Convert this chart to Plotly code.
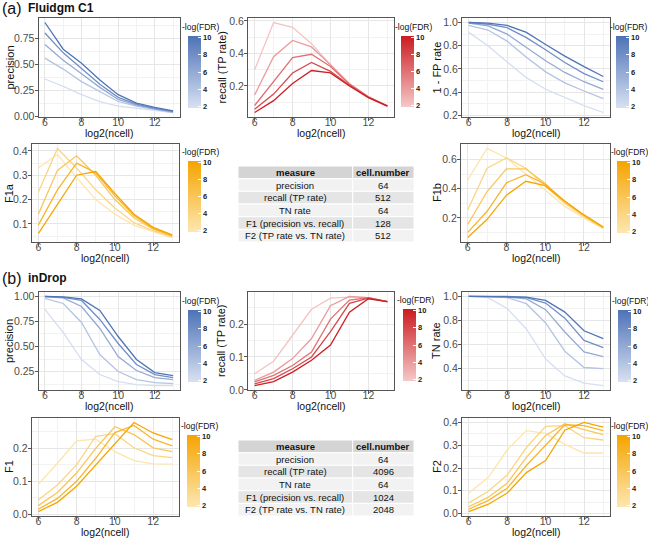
import plotly.graph_objects as go
from plotly.colors import sample_colorscale

W, H = 648, 539

# ---------------- data ----------------
ncell_log2 = [6, 7, 8, 9, 10, 11, 12, 13]
fdr_levels = [2, 4, 6, 8, 10]          # -log(FDR) of each line (light -> dark)
cbar_ticks = [2, 4, 6, 8, 10]

# (a) Fluidgm C1 ; rows follow fdr_levels
a_precision = [
    [0.36, 0.29, 0.21, 0.145, 0.10, 0.08, 0.06, 0.04],
    [0.56, 0.455, 0.335, 0.24, 0.145, 0.10, 0.07, 0.04],
    [0.69, 0.54, 0.41, 0.28, 0.165, 0.11, 0.075, 0.045],
    [0.80, 0.61, 0.46, 0.31, 0.185, 0.12, 0.08, 0.05],
    [0.90, 0.645, 0.51, 0.35, 0.21, 0.13, 0.09, 0.055],
]
a_recall = [
    [0.30, 0.59, 0.56, 0.46, 0.33, 0.215, 0.135, 0.078],
    [0.145, 0.38, 0.48, 0.44, 0.33, 0.213, 0.134, 0.078],
    [0.08, 0.23, 0.375, 0.395, 0.32, 0.21, 0.132, 0.078],
    [0.057, 0.15, 0.28, 0.345, 0.29, 0.205, 0.13, 0.077],
    [0.037, 0.11, 0.215, 0.295, 0.28, 0.20, 0.128, 0.076],
]
a_one_minus_fp = [
    [0.915, 0.80, 0.66, 0.525, 0.425, 0.355, 0.285, 0.225],
    [0.975, 0.935, 0.84, 0.70, 0.575, 0.48, 0.41, 0.345],
    [0.995, 0.97, 0.90, 0.785, 0.67, 0.57, 0.49, 0.425],
    [1.0, 0.985, 0.955, 0.87, 0.765, 0.655, 0.56, 0.49],
    [1.0, 0.995, 0.975, 0.915, 0.81, 0.71, 0.62, 0.535],
]
a_f1a = [
    [0.33, 0.385, 0.29, 0.20, 0.14, 0.095, 0.068, 0.044],
    [0.23, 0.41, 0.33, 0.24, 0.165, 0.105, 0.072, 0.047],
    [0.14, 0.32, 0.38, 0.30, 0.20, 0.125, 0.078, 0.05],
    [0.095, 0.24, 0.35, 0.31, 0.215, 0.135, 0.082, 0.052],
    [0.06, 0.18, 0.30, 0.315, 0.225, 0.14, 0.086, 0.055],
]
a_f1b = [
    [0.46, 0.675, 0.61, 0.50, 0.39, 0.28, 0.20, 0.125],
    [0.256, 0.54, 0.61, 0.54, 0.42, 0.30, 0.21, 0.13],
    [0.155, 0.38, 0.535, 0.535, 0.435, 0.31, 0.215, 0.133],
    [0.10, 0.245, 0.44, 0.495, 0.43, 0.315, 0.22, 0.135],
    [0.065, 0.19, 0.355, 0.45, 0.42, 0.315, 0.22, 0.137],
]

# (b) inDrop
b_precision = [
    [0.87, 0.64, 0.37, 0.22, 0.15, 0.12, 0.11, 0.11],
    [0.98, 0.93, 0.74, 0.42, 0.25, 0.17, 0.14, 0.13],
    [0.995, 0.985, 0.90, 0.68, 0.40, 0.26, 0.19, 0.17],
    [1.0, 0.99, 0.96, 0.77, 0.53, 0.32, 0.22, 0.19],
    [1.0, 0.995, 0.975, 0.86, 0.60, 0.37, 0.24, 0.21],
]
b_recall = [
    [0.049, 0.087, 0.166, 0.245, 0.279, 0.282, 0.280, 0.268],
    [0.029, 0.054, 0.095, 0.156, 0.256, 0.284, 0.280, 0.268],
    [0.024, 0.044, 0.074, 0.115, 0.215, 0.273, 0.280, 0.268],
    [0.018, 0.034, 0.064, 0.100, 0.177, 0.263, 0.279, 0.268],
    [0.013, 0.025, 0.054, 0.090, 0.136, 0.236, 0.277, 0.268],
]
b_tn_rate = [
    [1.0, 0.99, 0.90, 0.73, 0.48, 0.34, 0.28, 0.26],
    [1.0, 1.0, 0.99, 0.94, 0.78, 0.545, 0.41, 0.40],
    [1.0, 1.0, 0.995, 0.98, 0.89, 0.705, 0.54, 0.50],
    [1.0, 1.0, 1.0, 0.99, 0.945, 0.82, 0.635, 0.575],
    [1.0, 1.0, 1.0, 0.995, 0.967, 0.87, 0.715, 0.65],
]
b_f1 = [
    [0.091, 0.155, 0.223, 0.228, 0.190, 0.163, 0.153, 0.152],
    [0.043, 0.089, 0.150, 0.237, 0.245, 0.202, 0.178, 0.172],
    [0.026, 0.066, 0.125, 0.200, 0.266, 0.242, 0.202, 0.190],
    [0.015, 0.048, 0.100, 0.170, 0.248, 0.270, 0.228, 0.208],
    [0.008, 0.036, 0.085, 0.150, 0.215, 0.279, 0.247, 0.227],
]
b_f2 = [
    [0.09, 0.157, 0.279, 0.364, 0.352, 0.304, 0.266, 0.266],
    [0.047, 0.097, 0.169, 0.29, 0.383, 0.386, 0.333, 0.323],
    [0.03, 0.071, 0.133, 0.247, 0.343, 0.394, 0.369, 0.347],
    [0.019, 0.057, 0.111, 0.211, 0.30, 0.39, 0.386, 0.364],
    [0.009, 0.04, 0.09, 0.18, 0.233, 0.366, 0.40, 0.38],
]

table_header = ["measure", "cell.number"]
measures = ["precision", "recall (TP rate)", "TN rate",
            "F1 (precision vs. recall)", "F2 (TP rate vs. TN rate)"]
a_cell_number = [64, 512, 64, 128, 512]
b_cell_number = [64, 4096, 64, 1024, 2048]

# ---------------- styles ----------------
BLUE = [[0, "#d8e1f2"], [1, "#4d72b6"]]
RED = [[0, "#f5c8c8"], [1, "#cb1b20"]]
ORANGE = [[0, "#fde7b0"], [1, "#f5a400"]]
CMIN, CMAX = 1.8, 10.2
FONT = "Liberation Sans"

panels = [
    dict(data=a_precision, cs=BLUE, yt="precision", ticks=[0, 0.25, 0.5, 0.75], fmt=".2f",
         box=(38.5, 179.5, 18, 117), ytx=9, cb=(188, 36, 108)),
    dict(data=a_recall, cs=RED, yt="recall (TP rate)", ticks=[0.2, 0.4, 0.6], fmt=".1f",
         box=(248, 394, 18, 117), ytx=221, cb=(401, 36, 107)),
    dict(data=a_one_minus_fp, cs=BLUE, yt="1 - FP rate", ticks=[0.2, 0.4, 0.6, 0.8, 1.0], fmt=".1f",
         box=(462, 610, 18, 117), ytx=436, cb=(616, 36, 108)),
    dict(data=a_f1a, cs=ORANGE, yt="F1a", ticks=[0.1, 0.2, 0.3, 0.4], fmt=".1f",
         box=(31.6, 179, 144, 242), ytx=9, cb=(188, 161, 232)),
    dict(data=a_f1b, cs=ORANGE, yt="F1b", ticks=[0.2, 0.4, 0.6], fmt=".1f",
         box=(461, 610, 144, 242), ytx=437, cb=(617, 161, 233)),
    dict(data=b_precision, cs=BLUE, yt="precision", ticks=[0.25, 0.5, 0.75, 1.0], fmt=".2f",
         box=(38.5, 179.5, 292, 390), ytx=9, cb=(188, 310, 382)),
    dict(data=b_recall, cs=RED, yt="recall (TP rate)", ticks=[0.0, 0.1, 0.2], fmt=".1f",
         box=(248, 394, 292, 390), ytx=221, cb=(403, 309, 381)),
    dict(data=b_tn_rate, cs=BLUE, yt="TN rate", ticks=[0.2, 0.4, 0.6, 0.8, 1.0], fmt=".1f",
         box=(462, 610, 292, 390), ytx=436, cb=(618, 310, 382)),
    dict(data=b_f1, cs=ORANGE, yt="F1", ticks=[0.0, 0.1, 0.2], fmt=".1f",
         box=(31.6, 179, 418, 516), ytx=9, cb=(187, 435, 507)),
    dict(data=b_f2, cs=ORANGE, yt="F2", ticks=[0.0, 0.1, 0.2, 0.3, 0.4], fmt=".1f",
         box=(462, 610, 418, 516), ytx=437, cb=(617, 435, 507)),
]

fig = go.Figure()
annotations = []
shapes = []
layout_axes = {}

xlo, xhi = min(ncell_log2), max(ncell_log2)
xpad = 0.05 * (xhi - xlo)


def px(x):
    return x / W


def py(y):
    return 1 - y / H


for i, p in enumerate(panels, start=1):
    xa = "x" if i == 1 else f"x{i}"
    ya = "y" if i == 1 else f"y{i}"
    l, r, t, b = p["box"]
    vals = [v for row in p["data"] for v in row]
    lo, hi = min(vals), max(vals)
    pad = 0.05 * (hi - lo)
    step = p["ticks"][1] - p["ticks"][0]

    for lvl, row in zip(fdr_levels, p["data"]):
        col = sample_colorscale(p["cs"], (lvl - CMIN) / (CMAX - CMIN))[0]
        fig.add_trace(go.Scatter(x=ncell_log2, y=row, mode="lines", xaxis=xa, yaxis=ya,
                                 line=dict(color=col, width=1.3), showlegend=False,
                                 hoverinfo="skip"))
    # colour bar carrier
    cl, ct, cbt = p["cb"]
    fig.add_trace(go.Scatter(
        x=[ncell_log2[0]], y=[lo], mode="markers", xaxis=xa, yaxis=ya, showlegend=False,
        hoverinfo="skip",
        marker=dict(size=1, opacity=0, color=[fdr_levels[0]], cmin=CMIN, cmax=CMAX,
                    colorscale=p["cs"], showscale=True,
                    colorbar=dict(thickness=13, thicknessmode="pixels",
                                  len=cbt - ct, lenmode="pixels",
                                  x=px(cl), xanchor="left", xpad=0,
                                  y=py((ct + cbt) / 2), yanchor="middle", ypad=0,
                                  outlinewidth=0, tickvals=cbar_ticks,
                                  ticktext=[f"<b>{v}</b>" for v in cbar_ticks],
                                  ticks="inside", ticklen=3, tickcolor="white",
                                  tickfont=dict(size=7.5, color="#222", family=FONT)))))
    annotations.append(dict(text="-log(FDR)", x=px(cl - 8), y=py(ct - 2),
                            xref="paper", yref="paper", xanchor="left", yanchor="bottom",
                            showarrow=False, font=dict(size=8.5, color="#111", family=FONT)))

    axis_common = dict(showline=True, mirror=True, linecolor="#555", linewidth=1,
                       ticks="outside", ticklen=3, tickcolor="#555", zeroline=False,
                       showgrid=True, gridcolor="#e6e6e6", gridwidth=1,
                       tickfont=dict(size=10.5, color="#4d4d4d", family=FONT),
                       automargin=False)
    layout_axes["xaxis" if i == 1 else f"xaxis{i}"] = dict(
        axis_common, domain=[px(l), px(r)], anchor=ya,
        range=[xlo - xpad, xhi + xpad], tick0=0, dtick=2, ticklabelstandoff=-8,
        minor=dict(dtick=1, showgrid=True, gridcolor="#f2f2f2", gridwidth=0.6))
    layout_axes["yaxis" if i == 1 else f"yaxis{i}"] = dict(
        axis_common, domain=[py(b), py(t)], anchor=xa, ticklabelstandoff=-2,
        range=[lo - pad, hi + pad], tickvals=p["ticks"], tickformat=p["fmt"],
        minor=dict(tickvals=[v + step / 2 for v in [p["ticks"][0] - step] + p["ticks"]],
                   showgrid=True, gridcolor="#f2f2f2", gridwidth=0.6))

    # axis titles
    annotations.append(dict(text="log2(ncell)", x=px((l + r) / 2), y=py(b + 16),
                            xref="paper", yref="paper", xanchor="center", yanchor="middle",
                            showarrow=False, font=dict(size=10.5, color="#111", family=FONT)))
    annotations.append(dict(text=p["yt"], x=px(p["ytx"]), y=py((t + b) / 2), textangle=-90,
                            xref="paper", yref="paper", xanchor="center", yanchor="middle",
                            showarrow=False, font=dict(size=11, color="#111", family=FONT)))

# panel labels
for lab, name, yc in [("(a)", "Fluidgm C1", 8), ("(b)", "inDrop", 278)]:
    annotations.append(dict(text=lab, x=0, y=py(yc), xref="paper", yref="paper",
                            xanchor="left", yanchor="middle", showarrow=False,
                            font=dict(size=16, color="#111", family=FONT)))
    annotations.append(dict(text=f"<b>{name}</b>", x=px(26), y=py(yc), xref="paper",
                            yref="paper", xanchor="left", yanchor="middle", showarrow=False,
                            font=dict(size=12, color="#111", family=FONT)))

# tables (gridExtra style): header grey80, rows alternate grey95 / grey90
TL, TM, TR = 238, 352.7, 414
row_fill = ["#f2f2f2", "#e5e5e5"]
for cells, (tt, tb) in [(a_cell_number, (166, 242)), (b_cell_number, (440, 516))]:
    rows = [(f"<b>{table_header[0]}</b>", f"<b>{table_header[1]}</b>", "#d4d4d4")]
    rows += [(m, str(c), row_fill[k % 2]) for k, (m, c) in enumerate(zip(measures, cells))]
    rh = (tb - tt) / len(rows)
    for k, (c1, c2, fill) in enumerate(rows):
        y0, y1 = tt + k * rh, tt + (k + 1) * rh
        for (x0, x1, txt) in [(TL, TM, c1), (TM, TR, c2)]:
            shapes.append(dict(type="rect", xref="paper", yref="paper",
                               x0=px(x0), x1=px(x1), y0=py(y1), y1=py(y0),
                               fillcolor=fill, line=dict(color="white", width=1),
                               layer="below"))
            annotations.append(dict(text=txt, x=px((x0 + x1) / 2), y=py((y0 + y1) / 2),
                                    xref="paper", yref="paper", xanchor="center",
                                    yanchor="middle", showarrow=False,
                                    font=dict(size=9.5, color="#111", family=FONT)))

fig.update_layout(width=W, height=H, margin=dict(l=0, r=0, t=0, b=0),
                  paper_bgcolor="white", plot_bgcolor="white", showlegend=False,
                  annotations=annotations, shapes=shapes, font=dict(family=FONT),
                  **layout_axes)

fig.write_html("out.html", config={"displayModeBar": False},
               post_script="document.body.style.margin='0px';")
